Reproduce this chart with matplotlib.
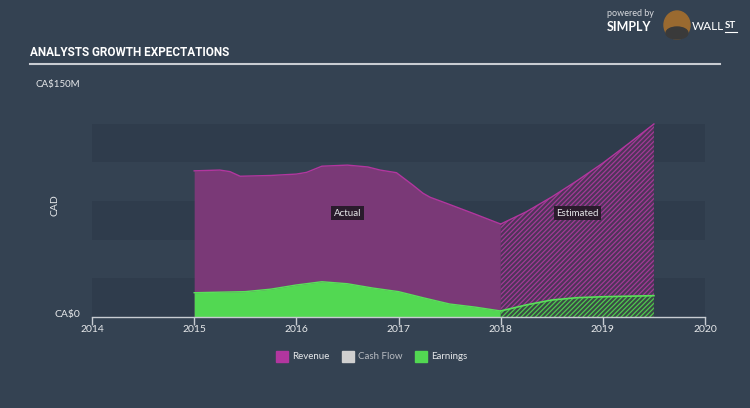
import matplotlib
matplotlib.use("Agg")
import matplotlib.pyplot as plt
from matplotlib.patches import Rectangle, Ellipse

# ---- data (CA$ millions) ----
rev_act_x = [2015.0, 2015.25, 2015.35, 2015.45, 2015.75, 2016.0, 2016.1, 2016.25, 2016.5,
             2016.7, 2016.82, 2016.98, 2017.14, 2017.24, 2017.31, 2017.47, 2017.75, 2018.0]
rev_act_y = [94.5, 95.0, 94.0, 91.0, 91.5, 92.4, 93.5, 97.5, 98.2,
             97.0, 95.0, 93.3, 85.3, 80.0, 77.4, 73.5, 66.5, 60.1]
rev_est_x = [2018.0, 2018.25, 2018.5, 2018.75, 2019.0, 2019.25, 2019.5]
rev_est_y = [60.1, 68.0, 77.6, 88.2, 99.5, 112.0, 124.8]

earn_act_x = [2015.0, 2015.5, 2015.75, 2016.0, 2016.25, 2016.5, 2016.75, 2017.0,
              2017.25, 2017.5, 2017.75, 2018.0]
earn_act_y = [15.7, 16.4, 18.0, 20.7, 22.8, 21.5, 18.7, 16.4,
              12.3, 8.4, 6.4, 3.9]
earn_est_x = [2018.0, 2018.25, 2018.5, 2018.75, 2019.0, 2019.5]
earn_est_y = [3.9, 7.8, 11.0, 12.5, 13.1, 13.8]

year_ticks = [2014, 2015, 2016, 2017, 2018, 2019, 2020]
band_edges = [(0, 25), (50, 75), (100, 125)]
legend_labels = ["Revenue", "Cash Flow", "Earnings"]

BG = "#344252"
BAND = "#2f3c4c"
REV_FILL = "#7a3977"
REV_LINE = "#b2369f"
EARN_FILL = "#52d852"
EARN_LINE = "#5ae05a"
CASH = "#d0d0d0"
TXT = "#e6e8ea"

plt.rcParams["font.family"] = ["Lato", "DejaVu Sans"]
plt.rcParams["hatch.linewidth"] = 0.9

fig = plt.figure(figsize=(7.5, 4.08), dpi=100, facecolor=BG)
ax = fig.add_axes([92 / 750, (408 - 317) / 408, 613 / 750, 232 / 408])
ax.set_facecolor(BG)
ax.set_xlim(2014, 2020)
ax.set_ylim(0, 150)

for lo, hi in band_edges:
    ax.axhspan(lo, hi, color=BAND, lw=0, zorder=0)

# revenue
ax.fill_between(rev_act_x, 0, rev_act_y, color=REV_FILL, lw=0, zorder=1)
ax.plot(rev_act_x, rev_act_y, color=REV_LINE, lw=1.0, zorder=3)
ax.fill_between(rev_est_x, 0, rev_est_y, facecolor="#4e3459", edgecolor="#a23a96",
                hatch="///////", lw=0, zorder=1)
ax.plot(rev_est_x, rev_est_y, color=REV_LINE, lw=1.0, zorder=3)

# earnings
ax.fill_between(earn_act_x, 0, earn_act_y, color=EARN_FILL, lw=0, zorder=2)
ax.plot(earn_act_x, earn_act_y, color=EARN_LINE, lw=1.0, zorder=3)
ax.fill_between(earn_est_x, 0, earn_est_y, facecolor="#3a4a45", edgecolor="#4fc94f",
                hatch="///////", lw=0, zorder=2)
ax.plot(earn_est_x, earn_est_y, color=EARN_LINE, lw=1.2, zorder=3)

# axis styling
for s in ["top", "right", "left"]:
    ax.spines[s].set_visible(False)
ax.spines["bottom"].set_color("#c8ccd2")
ax.spines["bottom"].set_linewidth(1.0)
ax.set_xticks(year_ticks)
ax.set_xticklabels([str(y) for y in year_ticks])
ax.tick_params(axis="x", colors="#c8ccd2", labelcolor=TXT, length=6, width=1,
               labelsize=7.5, pad=0)
ax.set_yticks([])

# labels in boxes
box = dict(boxstyle="square,pad=0.25", fc="#2a1b2c", ec="none")
ax.text(2016.5, 67, "Actual", color=TXT, fontsize=7, ha="center", va="center", bbox=box, zorder=5)
ax.text(2018.75, 67, "Estimated", color=TXT, fontsize=7, ha="center", va="center", bbox=box, zorder=5)

# figure texts
fig.text(30 / 750, 1 - 53 / 408, "ANALYSTS GROWTH EXPECTATIONS", color="white",
         fontsize=8.5, fontweight="bold", ha="left", va="center",
         family=["Roboto", "DejaVu Sans"])
fig.add_artist(plt.Line2D([30 / 750, 720 / 750], [1 - 64 / 408] * 2, color="#c8ccd2", lw=1.5))
fig.text(35 / 750, 1 - 85 / 408, "CA$150M", color=TXT, fontsize=7, ha="left", va="center")
fig.text(80 / 750, 1 - 315 / 408, "CA$0", color=TXT, fontsize=7.5, ha="right", va="center")
fig.text(55 / 750, 1 - 205 / 408, "CAD", color=TXT, fontsize=7.5, rotation=90,
         ha="center", va="center")

# logo
fig.text(607 / 750, 1 - 14 / 408, "powered by", color="#d8dade", fontsize=6.5, ha="left", va="center")
fig.text(607 / 750, 1 - 27 / 408, "SIMPLY", color="white", fontsize=9, fontweight="bold",
         ha="left", va="center")
fig.add_artist(Ellipse((677 / 750, 1 - 25 / 408), 26 / 750, 28 / 408, transform=fig.transFigure,
                       color="#9a6a30", zorder=5))
fig.add_artist(Ellipse((677 / 750, 1 - 33 / 408), 22 / 750, 12 / 408, transform=fig.transFigure,
                       color="#3a3a3a", zorder=6))
fig.text(692 / 750, 1 - 27 / 408, "WALL", color="white", fontsize=8.5, ha="left", va="center")
fig.text(725 / 750, 1 - 26 / 408, "ST", color="white", fontsize=7, fontweight="bold",
         ha="left", va="center")
fig.add_artist(plt.Line2D([725 / 750, 737 / 750], [1 - 32 / 408] * 2, color="white", lw=0.8))

# legend
colors = [REV_LINE, CASH, EARN_FILL]
xs = [276, 342, 415]
for x, c, lab in zip(xs, colors, legend_labels):
    fig.add_artist(Rectangle((x / 750, 1 - 362 / 408), 12 / 750, 11 / 408,
                             transform=fig.transFigure, color=c))
    fig.text((x + 16) / 750, 1 - 356.5 / 408, lab, color=TXT if lab != "Cash Flow" else "#b8bcc2",
             fontsize=7, ha="left", va="center")

fig.savefig("out.png", dpi=100, facecolor=BG)
